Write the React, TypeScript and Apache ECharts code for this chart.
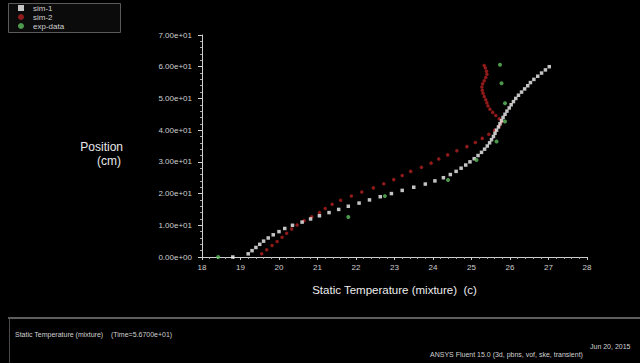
import React, { useEffect, useRef } from "react";
import * as echarts from "echarts";

const xTicks = [18, 19, 20, 21, 22, 23, 24, 25, 26, 27, 28];
const yTicks = [0, 10, 20, 30, 40, 50, 60, 70];
const seriesNames = ["sim-1", "sim-2", "exp-data"];

// white series (simulation 1): temperature (c), position (cm)
const simATemp = [18.8, 19.2, 19.3, 19.4, 19.5, 19.6, 19.72, 19.85, 20.0, 20.15, 20.35, 20.6, 20.82, 21.05, 21.3, 21.55, 21.8, 22.08, 22.35, 22.63, 22.92, 23.2, 23.5, 23.8, 24.05, 24.27, 24.45, 24.6, 24.73, 24.85, 24.96, 25.07, 25.17, 25.26, 25.34, 25.41, 25.47, 25.52, 25.57, 25.61, 25.65, 25.7, 25.74, 25.78, 25.82, 25.87, 25.92, 25.98, 26.03, 26.09, 26.15, 26.22, 26.3, 26.38, 26.46, 26.53, 26.62, 26.72, 26.82, 26.92, 27.02];
const simAPos = [0, 1, 2, 3, 4, 5, 6, 7, 8, 9, 10, 11, 12, 13, 14, 15, 16, 17, 18, 19, 20, 21, 22, 23, 24, 25, 26, 27, 28, 29, 30, 31, 32, 33, 34, 35, 36, 37, 38, 39, 40, 41, 42, 43, 44, 45, 46, 47, 48, 49, 50, 51, 52, 53, 54, 55, 56, 57, 58, 59, 60];

// red series (simulation 2)
const simBTemp = [19.55, 19.68, 19.82, 19.95, 20.08, 20.2, 20.33, 20.47, 20.65, 20.85, 21.05, 21.2, 21.38, 21.6, 21.88, 22.15, 22.45, 22.72, 22.98, 23.2, 23.42, 23.7, 23.95, 24.15, 24.38, 24.62, 24.88, 25.1, 25.28, 25.45, 25.6, 25.72, 25.78, 25.72, 25.63, 25.55, 25.48, 25.43, 25.4, 25.37, 25.33, 25.3, 25.28, 25.27, 25.29, 25.33, 25.37, 25.4, 25.39, 25.36, 25.33];
const simBPos = [1.0, 2.3, 3.6, 4.9, 6.2, 7.5, 8.8, 10.1, 11.4, 12.7, 14.0, 15.3, 16.6, 17.9, 19.2, 20.5, 21.8, 23.1, 24.4, 25.7, 27.0, 28.3, 29.6, 30.9, 32.2, 33.5, 34.8, 36.1, 37.4, 38.7, 40.0, 41.3, 42.6, 43.6, 44.6, 45.6, 46.6, 47.6, 48.6, 49.6, 50.6, 51.6, 52.6, 53.6, 54.6, 55.6, 56.6, 57.6, 58.6, 59.6, 60.4];

// green series (experiment)
const expTemp = [18.42, 21.8, 22.75, 24.39, 25.13, 25.65, 25.87, 25.87, 25.78, 25.74];
const expPos = [0, 12.6, 19.2, 24.3, 30.6, 36.4, 42.7, 48.5, 54.8, 60.6];

const fmtExp = (v: number) => {
  const s = v.toExponential(2);
  const [m, e] = s.split("e");
  const sign = e[0] === "-" ? "-" : "+";
  const digits = e.replace(/[+-]/, "").padStart(2, "0");
  return `${m}e${sign}${digits}`;
};

const zip = (a: number[], b: number[]) => a.map((v, i) => [v, b[i]]);

export default function App() {
  const ref = useRef<HTMLDivElement>(null);
  useEffect(() => {
    document.body.style.margin = "0";
    document.body.style.background = "#000";
    const chart = echarts.init(ref.current!, undefined, { renderer: "svg" });
    const font = "Liberation Sans, Arial, sans-serif";
    chart.setOption({
      animation: false,
      backgroundColor: "#000",
      textStyle: { fontFamily: font },
      grid: { left: 202, right: 53, top: 35, bottom: 106, containLabel: false, outerBoundsMode: "none" },
      legend: {
        show: true,
        left: 17,
        top: 3,
        orient: "vertical",
        itemGap: 1,
        itemWidth: 6,
        itemHeight: 6,
        padding: 1,
        textStyle: { color: "#cfcfcf", fontSize: 8, fontFamily: font, padding: [0, 0, 0, 4] },
        data: seriesNames,
      },
      xAxis: {
        type: "value",
        min: xTicks[0],
        max: xTicks[xTicks.length - 1],
        interval: 1,
        name: "Static Temperature (mixture)  (c)",
        nameLocation: "middle",
        nameGap: 27,
        nameTextStyle: { color: "#ededed", fontSize: 11.5, fontFamily: font },
        axisLine: { lineStyle: { color: "#cfcfcf", width: 1 } },
        axisTick: { show: true, length: 3, lineStyle: { color: "#cfcfcf" } },
        minorTick: { show: true, splitNumber: 5, length: 2, lineStyle: { color: "#aaa" } },
        axisLabel: { color: "#cfcfcf", fontSize: 8, margin: 6 },
        splitLine: { show: false },
      },
      yAxis: {
        type: "value",
        min: yTicks[0],
        max: yTicks[yTicks.length - 1],
        interval: 10,
        axisLine: { show: true, lineStyle: { color: "#cfcfcf", width: 1 } },
        axisTick: { show: true, length: 4, lineStyle: { color: "#cfcfcf" } },
        minorTick: { show: true, splitNumber: 5, length: 2, lineStyle: { color: "#aaa" } },
        axisLabel: { color: "#cfcfcf", fontSize: 8, margin: 10, formatter: (v: number) => fmtExp(v) },
        splitLine: { show: false },
      },
      graphic: [
        {
          type: "rect",
          z: -1,
          shape: { x: 8.5, y: 3.5, width: 112, height: 29 },
          style: { fill: "#0b0b0b", stroke: "#5a5a5a", lineWidth: 1 },
        },
        {
          type: "text",
          x: 123,
          y: 141,
          style: { text: "Position", fill: "#e8e8e8", font: `12px ${font}`, align: "right" },
        },
        {
          type: "text",
          x: 121,
          y: 155,
          style: { text: "(cm)", fill: "#e8e8e8", font: `12px ${font}`, align: "right" },
        },
        {
          type: "line",
          shape: { x1: 8, y1: 318, x2: 640, y2: 318 },
          style: { stroke: "#5e5e5e", lineWidth: 2 },
        },
        {
          type: "line",
          shape: { x1: 9.5, y1: 318, x2: 9.5, y2: 363 },
          style: { stroke: "#4a4a4a", lineWidth: 1 },
        },
        {
          type: "text",
          x: 15,
          y: 331,
          style: { text: "Static Temperature (mixture)    (Time=5.6700e+01)", fill: "#d0d0d0", font: `7px ${font}` },
        },
        {
          type: "text",
          x: 590,
          y: 343,
          style: { text: "Jun 20, 2015", fill: "#d0d0d0", font: `7px ${font}` },
        },
        {
          type: "text",
          x: 430,
          y: 351,
          style: { text: "ANSYS Fluent 15.0 (3d, pbns, vof, ske, transient)", fill: "#d0d0d0", font: `7px ${font}` },
        },
      ],
      series: [
        {
          name: seriesNames[0],
          type: "scatter",
          symbol: "rect",
          symbolSize: 3.5,
          itemStyle: { color: "#f4f4f4" },
          data: zip(simATemp, simAPos),
          z: 3,
        },
        {
          name: seriesNames[1],
          type: "scatter",
          symbol: "circle",
          symbolSize: 3.5,
          itemStyle: { color: "#b3201f" },
          data: zip(simBTemp, simBPos),
          z: 2,
        },
        {
          name: seriesNames[2],
          type: "scatter",
          symbol: "circle",
          symbolSize: 4,
          itemStyle: { color: "#5fbf5f" },
          data: zip(expTemp, expPos),
          z: 4,
        },
      ],
    });
    return () => chart.dispose();
  }, []);
  return (
    <div
      ref={ref}
      style={{ position: "fixed", left: 0, top: 0, width: 640, height: 363, background: "#000" }}
    />
  );
}
